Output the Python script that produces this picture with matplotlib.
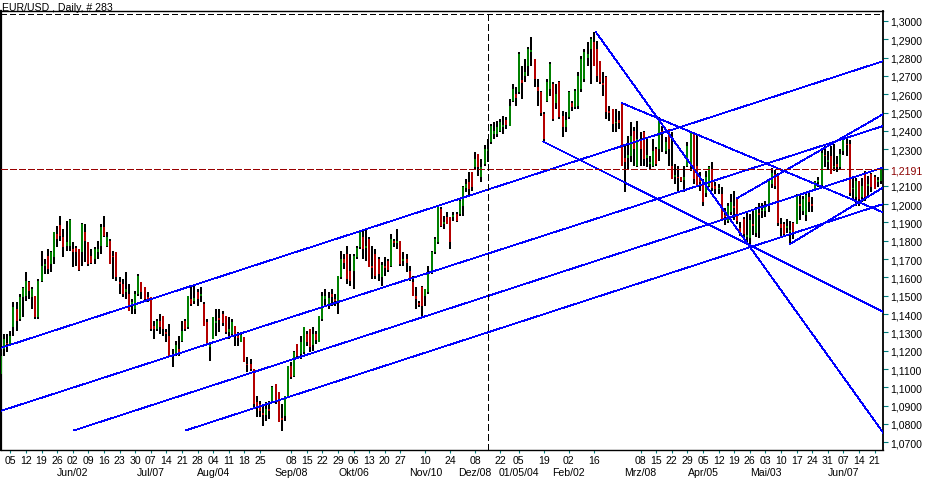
import matplotlib
matplotlib.use("Agg")
import matplotlib.pyplot as plt
import matplotlib.transforms as mtransforms

plt.rcParams["font.family"] = ["Liberation Sans", "DejaVu Sans"]
plt.rcParams["lines.scale_dashes"] = False

# daily bars (index 0 = first bar on the left)
opens = [
    1.1073, 1.1209, 1.1240, 1.1227, 1.1327, 1.1427, 1.1373, 1.1491, 1.1500, 1.1573,
    1.1491, 1.1497, 1.1382, 1.1582, 1.1664, 1.1719, 1.1673, 1.1710, 1.1837, 1.1886,
    1.1819, 1.1773, 1.1773, 1.1755, 1.1759, 1.1755, 1.1737, 1.1846, 1.1791, 1.1715,
    1.1700, 1.1737, 1.1773, 1.1873, 1.1773, 1.1800, 1.1719, 1.1737, 1.1573, 1.1564,
    1.1518, 1.1509, 1.1446, 1.1427, 1.1509, 1.1573, 1.1546, 1.1491, 1.1491, 1.1337,
    1.1318, 1.1364, 1.1391, 1.1300, 1.1282, 1.1180, 1.1180, 1.1209, 1.1255, 1.1360,
    1.1328, 1.1482, 1.1470, 1.1520, 1.1500, 1.1455, 1.1355, 1.1220, 1.1264, 1.1350,
    1.1380, 1.1400, 1.1391, 1.1300, 1.1291, 1.1337, 1.1280, 1.1250, 1.1273, 1.1130,
    1.1127, 1.1100, 1.0920, 1.0910, 1.0860, 1.0850, 1.0880, 1.0918, 1.1018, 1.0973,
    1.0830, 1.0845, 1.0954, 1.1118, 1.1064, 1.1237, 1.1180, 1.1191, 1.1290, 1.1318,
    1.1230, 1.1290, 1.1246, 1.1373, 1.1480, 1.1450, 1.1510, 1.1480, 1.1464, 1.1600,
    1.1700, 1.1728, 1.1637, 1.1637, 1.1710, 1.1764, 1.1819, 1.1760, 1.1810, 1.1660,
    1.1728, 1.1700, 1.1600, 1.1660, 1.1690, 1.1664, 1.1800, 1.1790, 1.1801, 1.1690,
    1.1700, 1.1637, 1.1573, 1.1500, 1.1460, 1.1546, 1.1501, 1.1519, 1.1628, 1.1737,
    1.1792, 1.1974, 1.1890, 1.1928, 1.1928, 1.1930, 1.1946, 1.1946, 1.1992, 1.2090,
    1.2120, 1.2174, 1.2201, 1.2274, 1.2150, 1.2220, 1.2290, 1.2337, 1.2380, 1.2380,
    1.2400, 1.2420, 1.2460, 1.2428, 1.2565, 1.2600, 1.2610, 1.2680, 1.2700, 1.2756,
    1.2830, 1.2792, 1.2640, 1.2610, 1.2490, 1.2565, 1.2628, 1.2656, 1.2550, 1.2665,
    1.2480, 1.2420, 1.2474, 1.2550, 1.2528, 1.2537, 1.2628, 1.2683, 1.2800, 1.2847,
    1.2883, 1.2847, 1.2783, 1.2660, 1.2692, 1.2510, 1.2519, 1.2440, 1.2460, 1.2547,
    1.2250, 1.2250, 1.2264, 1.2400, 1.2210, 1.2350, 1.2392, 1.2250, 1.2220, 1.2210,
    1.2300, 1.2301, 1.2400, 1.2290, 1.2410, 1.2210, 1.2150, 1.2150, 1.2146, 1.2130,
    1.2210, 1.2219, 1.2383, 1.2210, 1.2150, 1.2120, 1.2060, 1.2101, 1.2192, 1.2100,
    1.2080, 1.2055, 1.1940, 1.1910, 1.1955, 1.1990, 1.2035, 1.1870, 1.1920, 1.1820,
    1.1815, 1.1890, 1.1840, 1.1950, 1.1960, 1.1960, 1.2001, 1.2110, 1.2165, 1.2160,
    1.1890, 1.1892, 1.1870, 1.1850, 1.1895, 1.1892, 1.2000, 1.1965, 1.1940, 1.2040,
    1.2000, 1.2085, 1.2120, 1.2105, 1.2270, 1.2230, 1.2265, 1.2200, 1.2220, 1.2201,
    1.2290, 1.2330, 1.2330, 1.2080, 1.2037, 1.2128, 1.2040, 1.2170, 1.2100, 1.2165,
    1.2146, 1.2120, 1.2128,
]
highs = [
    1.1191, 1.1291, 1.1291, 1.1309, 1.1464, 1.1464, 1.1509, 1.1546, 1.1628, 1.1582,
    1.1546, 1.1500, 1.1591, 1.1746, 1.1700, 1.1755, 1.1746, 1.1846, 1.1882, 1.1937,
    1.1864, 1.1910, 1.1919, 1.1791, 1.1773, 1.1755, 1.1897, 1.1892, 1.1791, 1.1755,
    1.1764, 1.1800, 1.1892, 1.1937, 1.1846, 1.1810, 1.1746, 1.1737, 1.1600, 1.1591,
    1.1628, 1.1564, 1.1482, 1.1528, 1.1619, 1.1573, 1.1546, 1.1518, 1.1491, 1.1364,
    1.1373, 1.1400, 1.1391, 1.1318, 1.1346, 1.1209, 1.1255, 1.1282, 1.1364, 1.1373,
    1.1500, 1.1555, 1.1564, 1.1537, 1.1546, 1.1464, 1.1373, 1.1246, 1.1382, 1.1428,
    1.1428, 1.1418, 1.1391, 1.1382, 1.1373, 1.1337, 1.1300, 1.1291, 1.1273, 1.1164,
    1.1155, 1.1100, 1.0954, 1.0927, 1.0900, 1.0918, 1.0927, 1.1009, 1.1018, 1.0973,
    1.0909, 1.0954, 1.1118, 1.1136, 1.1200, 1.1237, 1.1282, 1.1328, 1.1309, 1.1318,
    1.1328, 1.1309, 1.1391, 1.1519, 1.1537, 1.1519, 1.1537, 1.1510, 1.1610, 1.1746,
    1.1728, 1.1774, 1.1728, 1.1728, 1.1774, 1.1856, 1.1865, 1.1865, 1.1819, 1.1774,
    1.1755, 1.1710, 1.1683, 1.1710, 1.1701, 1.1837, 1.1810, 1.1865, 1.1801, 1.1737,
    1.1728, 1.1664, 1.1610, 1.1546, 1.1473, 1.1555, 1.1537, 1.1664, 1.1746, 1.1819,
    1.1992, 1.1983, 1.1937, 1.1956, 1.1928, 1.1956, 1.1956, 1.2028, 1.2101, 1.2138,
    1.2174, 1.2174, 1.2283, 1.2274, 1.2247, 1.2320, 1.2356, 1.2437, 1.2446, 1.2456,
    1.2465, 1.2483, 1.2474, 1.2574, 1.2656, 1.2638, 1.2829, 1.2756, 1.2792, 1.2856,
    1.2911, 1.2792, 1.2683, 1.2619, 1.2501, 1.2683, 1.2774, 1.2665, 1.2656, 1.2674,
    1.2510, 1.2501, 1.2619, 1.2565, 1.2628, 1.2719, 1.2810, 1.2847, 1.2883, 1.2911,
    1.2938, 1.2892, 1.2783, 1.2719, 1.2701, 1.2537, 1.2519, 1.2519, 1.2510, 1.2547,
    1.2328, 1.2374, 1.2446, 1.2419, 1.2456, 1.2392, 1.2401, 1.2356, 1.2265, 1.2356,
    1.2310, 1.2474, 1.2428, 1.2365, 1.2410, 1.2392, 1.2219, 1.2210, 1.2146, 1.2210,
    1.2337, 1.2392, 1.2383, 1.2383, 1.2174, 1.2137, 1.2180, 1.2210, 1.2228, 1.2119,
    1.2110, 1.2092, 1.1978, 1.2005, 1.2055, 1.2070, 1.2040, 1.1900, 1.1930, 1.1955,
    1.1946, 1.1964, 1.1983, 1.2005, 1.2005, 1.2019, 1.2128, 1.2195, 1.2185, 1.2170,
    1.1925, 1.1901, 1.1920, 1.1910, 1.1900, 1.2055, 1.2055, 1.2046, 1.2065, 1.2065,
    1.2037, 1.2128, 1.2147, 1.2296, 1.2315, 1.2288, 1.2315, 1.2329, 1.2265, 1.2300,
    1.2360, 1.2365, 1.2350, 1.2146, 1.2142, 1.2128, 1.2140, 1.2180, 1.2155, 1.2169,
    1.2160, 1.2150, 1.2201,
]
lows = [
    1.1063, 1.1173, 1.1191, 1.1227, 1.1282, 1.1309, 1.1364, 1.1382, 1.1473, 1.1482,
    1.1427, 1.1373, 1.1373, 1.1573, 1.1619, 1.1619, 1.1628, 1.1673, 1.1764, 1.1800,
    1.1710, 1.1746, 1.1746, 1.1655, 1.1664, 1.1637, 1.1664, 1.1682, 1.1664, 1.1673,
    1.1673, 1.1700, 1.1728, 1.1819, 1.1764, 1.1673, 1.1591, 1.1582, 1.1509, 1.1491,
    1.1482, 1.1418, 1.1400, 1.1400, 1.1500, 1.1482, 1.1464, 1.1464, 1.1309, 1.1264,
    1.1309, 1.1291, 1.1282, 1.1246, 1.1164, 1.1109, 1.1173, 1.1173, 1.1246, 1.1309,
    1.1318, 1.1446, 1.1455, 1.1446, 1.1464, 1.1337, 1.1237, 1.1146, 1.1264, 1.1282,
    1.1300, 1.1337, 1.1291, 1.1264, 1.1282, 1.1227, 1.1227, 1.1246, 1.1136, 1.1082,
    1.1091, 1.0891, 1.0836, 1.0836, 1.0791, 1.0818, 1.0827, 1.0918, 1.0909, 1.0809,
    1.0763, 1.0818, 1.0945, 1.1045, 1.1054, 1.1164, 1.1155, 1.1182, 1.1227, 1.1191,
    1.1200, 1.1237, 1.1246, 1.1364, 1.1437, 1.1428, 1.1446, 1.1446, 1.1401, 1.1592,
    1.1646, 1.1564, 1.1555, 1.1537, 1.1701, 1.1755, 1.1701, 1.1692, 1.1655, 1.1592,
    1.1592, 1.1583, 1.1555, 1.1610, 1.1628, 1.1655, 1.1764, 1.1755, 1.1664, 1.1664,
    1.1628, 1.1583, 1.1501, 1.1428, 1.1437, 1.1391, 1.1446, 1.1510, 1.1619, 1.1728,
    1.1783, 1.1874, 1.1865, 1.1892, 1.1755, 1.1910, 1.1901, 1.1937, 1.1937, 1.2065,
    1.2037, 1.2074, 1.2192, 1.2156, 1.2119, 1.2210, 1.2228, 1.2328, 1.2355, 1.2364,
    1.2392, 1.2383, 1.2410, 1.2428, 1.2556, 1.2537, 1.2601, 1.2574, 1.2665, 1.2701,
    1.2756, 1.2638, 1.2537, 1.2483, 1.2346, 1.2556, 1.2592, 1.2456, 1.2519, 1.2465,
    1.2364, 1.2392, 1.2465, 1.2510, 1.2519, 1.2519, 1.2610, 1.2665, 1.2756, 1.2656,
    1.2756, 1.2665, 1.2656, 1.2592, 1.2465, 1.2456, 1.2392, 1.2392, 1.2410, 1.2210,
    1.2064, 1.2192, 1.2230, 1.2210, 1.2201, 1.2210, 1.2210, 1.2201, 1.2192, 1.2201,
    1.2210, 1.2237, 1.2283, 1.2274, 1.2210, 1.2137, 1.2110, 1.2074, 1.2119, 1.2064,
    1.2201, 1.2183, 1.2110, 1.2092, 1.2074, 1.1992, 1.2040, 1.2092, 1.2074, 1.2055,
    1.2055, 1.1919, 1.1887, 1.1895, 1.1940, 1.1915, 1.1892, 1.1828, 1.1815, 1.1780,
    1.1773, 1.1830, 1.1819, 1.1815, 1.1925, 1.1928, 1.1955, 1.2090, 1.2085, 1.1883,
    1.1819, 1.1823, 1.1840, 1.1782, 1.1810, 1.1892, 1.1915, 1.1941, 1.1910, 1.1955,
    1.1955, 1.2078, 1.2096, 1.2101, 1.2205, 1.2187, 1.2165, 1.2183, 1.2174, 1.2192,
    1.2270, 1.2265, 1.2045, 1.2020, 1.1990, 1.1990, 1.2010, 1.2019, 1.2032, 1.2065,
    1.2087, 1.2096, 1.2110,
]
closes = [
    1.1173, 1.1264, 1.1235, 1.1282, 1.1437, 1.1364, 1.1491, 1.1540, 1.1582, 1.1528,
    1.1537, 1.1382, 1.1582, 1.1664, 1.1673, 1.1646, 1.1737, 1.1846, 1.1810, 1.1824,
    1.1764, 1.1791, 1.1915, 1.1737, 1.1737, 1.1640, 1.1892, 1.1800, 1.1673, 1.1679,
    1.1755, 1.1755, 1.1873, 1.1828, 1.1819, 1.1673, 1.1710, 1.1600, 1.1564, 1.1509,
    1.1537, 1.1418, 1.1464, 1.1509, 1.1609, 1.1518, 1.1482, 1.1482, 1.1318, 1.1318,
    1.1364, 1.1330, 1.1318, 1.1290, 1.1164, 1.1170, 1.1230, 1.1182, 1.1309, 1.1320,
    1.1500, 1.1455, 1.1490, 1.1480, 1.1510, 1.1337, 1.1237, 1.1230, 1.1382, 1.1360,
    1.1370, 1.1350, 1.1300, 1.1320, 1.1355, 1.1291, 1.1270, 1.1285, 1.1136, 1.1120,
    1.1100, 1.0909, 1.0900, 1.0870, 1.0850, 1.0880, 1.0870, 1.1000, 1.0927, 1.0809,
    1.0820, 1.0954, 1.1118, 1.1054, 1.1191, 1.1173, 1.1250, 1.1328, 1.1250, 1.1220,
    1.1290, 1.1260, 1.1391, 1.1501, 1.1500, 1.1490, 1.1491, 1.1470, 1.1610, 1.1700,
    1.1680, 1.1592, 1.1583, 1.1719, 1.1760, 1.1846, 1.1755, 1.1770, 1.1655, 1.1650,
    1.1610, 1.1620, 1.1670, 1.1650, 1.1640, 1.1810, 1.1790, 1.1800, 1.1673, 1.1700,
    1.1680, 1.1592, 1.1501, 1.1480, 1.1450, 1.1446, 1.1537, 1.1628, 1.1737, 1.1810,
    1.1983, 1.1883, 1.1900, 1.1892, 1.1792, 1.1940, 1.1910, 1.2019, 1.2092, 1.2110,
    1.2080, 1.2092, 1.2247, 1.2201, 1.2200, 1.2300, 1.2300, 1.2428, 1.2400, 1.2420,
    1.2450, 1.2430, 1.2430, 1.2537, 1.2628, 1.2580, 1.2820, 1.2660, 1.2720, 1.2847,
    1.2840, 1.2683, 1.2620, 1.2500, 1.2355, 1.2665, 1.2765, 1.2465, 1.2600, 1.2474,
    1.2420, 1.2460, 1.2610, 1.2530, 1.2619, 1.2701, 1.2792, 1.2829, 1.2820, 1.2901,
    1.2756, 1.2701, 1.2665, 1.2650, 1.2501, 1.2500, 1.2437, 1.2450, 1.2440, 1.2210,
    1.2230, 1.2270, 1.2374, 1.2300, 1.2356, 1.2300, 1.2246, 1.2270, 1.2230, 1.2292,
    1.2220, 1.2465, 1.2390, 1.2340, 1.2301, 1.2137, 1.2160, 1.2140, 1.2125, 1.2150,
    1.2319, 1.2392, 1.2137, 1.2101, 1.2120, 1.2010, 1.2150, 1.2201, 1.2090, 1.2080,
    1.2090, 1.1919, 1.1930, 1.1990, 1.2010, 1.1980, 1.1910, 1.1850, 1.1837, 1.1830,
    1.1915, 1.1880, 1.1975, 1.1940, 1.1970, 1.1990, 1.2128, 1.2170, 1.2100, 1.1895,
    1.1870, 1.1837, 1.1880, 1.1860, 1.1837, 1.2050, 1.1990, 1.2028, 1.2050, 1.2010,
    1.1990, 1.2120, 1.2130, 1.2280, 1.2260, 1.2240, 1.2165, 1.2210, 1.2201, 1.2274,
    1.2350, 1.2320, 1.2060, 1.2090, 1.2128, 1.2028, 1.2100, 1.2040, 1.2110, 1.2092,
    1.2083, 1.2130, 1.2191,
]

# trend lines: (start bar, start price) -> (end bar, end price)
line_x0 = [-0.3, -0.3, 23.4, 59.2, 190.7, 173.8, 198.9, 236.0, 252.9]
line_p0 = [1.1214, 1.0870, 1.0765, 1.0765, 1.2938, 1.2341, 1.2552, 1.2033, 1.1782]
line_x1 = [282.85, 282.85, 282.85, 282.85, 282.85, 282.85, 282.85, 282.85, 282.85]
line_p1 = [1.2781, 1.2427, 1.2200, 1.2001, 1.0750, 1.1411, 1.1954, 1.2492, 1.2092]

last_price = 1.2191
top_level = 1.3038
cursor_bar = 156

day_idx = [3, 8, 13, 18, 23, 28, 33, 38, 43, 48, 53, 58, 63, 68, 73, 78, 83,
           93, 98, 103, 108, 113, 118, 123, 128, 136, 144,
           152, 160, 166, 174, 182, 190,
           205, 210, 215, 220, 225, 230, 235, 240, 245, 250, 255, 260, 265, 270, 275, 280]
day_lab = ["05", "12", "19", "26", "02", "09", "16", "23", "30", "07", "14", "21", "28",
           "04", "11", "18", "25",
           "08", "15", "22", "29", "06", "13", "20", "27", "10", "24",
           "08", "22", "05", "19", "02", "16",
           "08", "15", "22", "29", "05", "12", "19", "26", "03", "10", "17", "24", "31",
           "07", "14", "21"]
month_idx = [23, 48, 68, 93, 113, 136, 152, 166, 182, 205, 225, 245, 270]
month_lab = ["Jun/02", "Jul/07", "Aug/04", "Sep/08", "Okt/06", "Nov/10", "Dez/08",
             "01/05/04", "Feb/02", "Mrz/08", "Apr/05", "Mai/03", "Jun/07"]

price_ticks = [1.07, 1.08, 1.09, 1.10, 1.11, 1.12, 1.13, 1.14, 1.15, 1.16, 1.17,
               1.18, 1.19, 1.20, 1.21, 1.23, 1.24, 1.25, 1.26, 1.27, 1.28, 1.29, 1.30]

W, H = 928, 481
fig = plt.figure(figsize=(W / 100, H / 100), dpi=100)
ax = fig.add_axes([0.5 / W, 30 / H, 883 / W, 439 / H])
ax.set_xlim(-0.16, 282.85)
ax.set_ylim(1.0658, 1.3054)

idx = list(range(len(opens)))
ax.vlines(idx, lows, highs, colors="black", lw=1.3, antialiased=False, zorder=3)
body_cols = ["#008000" if c >= o else "#B40000" for o, c in zip(opens, closes)]
ax.vlines(idx, opens, closes, colors=body_cols, lw=1.3, antialiased=False, zorder=4)

for x0, p0, x1, p1 in zip(line_x0, line_p0, line_x1, line_p1):
    ax.plot([x0, x1], [p0, p1], color="#0000FF", lw=0.55, antialiased=False, zorder=5)

ax.axhline(last_price, color="#990000", lw=0.72, dashes=(4.4, 2.0),
           antialiased=False, zorder=6)
ax.axhline(top_level, color="black", lw=0.72, dashes=(3.6, 2.2),
           antialiased=False, zorder=6)
ax.axvline(cursor_bar, color="black", lw=0.72, dashes=(4.8, 2.4),
           antialiased=False, zorder=6)

# right price axis
ticks = sorted(price_ticks + [last_price])
ax.yaxis.tick_right()
ax.set_yticks(ticks)
ax.set_yticklabels([f"{v:.4f}".replace(".", ",") for v in ticks])
ax.tick_params(axis="y", length=3.6, width=0.8, color="#008080", pad=1.2,
               labelsize=7.6, labelcolor="black")
for lab, v in zip(ax.get_yticklabels(), ticks):
    if v == last_price:
        lab.set_color("#8B0000")

# date axis: tick marks plus two label rows
ax.set_xticks(day_idx)
ax.set_xticklabels([])
ax.tick_params(axis="x", length=1.8, width=0.8, color="#008080")
tr = mtransforms.blended_transform_factory(ax.transData, ax.transAxes)
for x, s in zip(day_idx, day_lab):
    ax.text(x, -0.0235, s, transform=tr, ha="center", va="center", fontsize=7.6)
for x, s in zip(month_idx, month_lab):
    ax.text(x, -0.051, s, transform=tr, ha="center", va="center", fontsize=7.6)

for side, lw in (("left", 1.6), ("right", 1.3), ("top", 1.0), ("bottom", 1.0)):
    ax.spines[side].set_linewidth(lw)
    ax.spines[side].set_color("black")

fig.text(2 / W, 1 - 8 / H, "EUR/USD , Daily, # 283", ha="left", va="center", fontsize=7.6)

fig.savefig("out.png", dpi=100)
